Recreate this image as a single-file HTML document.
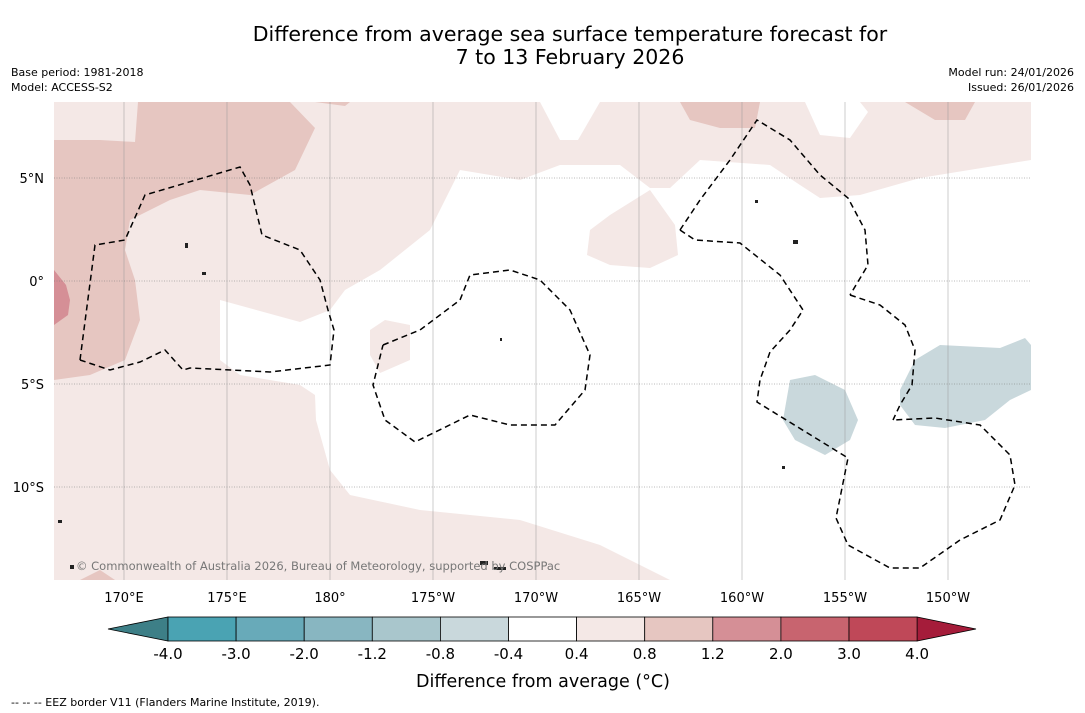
<!DOCTYPE html>
<html><head><meta charset="utf-8"><style>
body{margin:0;background:#fff;font-family:"DejaVu Sans","Liberation Sans",sans-serif}
svg{display:block}
</style></head><body>
<svg width="1085" height="713" viewBox="0 0 1085 713" xmlns="http://www.w3.org/2000/svg" font-family="DejaVu Sans, Liberation Sans, sans-serif">
<rect width="1085" height="713" fill="#fff"/>
<text x="570" y="41" font-size="20.5" text-anchor="middle">Difference from average sea surface temperature forecast for</text>
<text x="570" y="64" font-size="20.5" text-anchor="middle">7 to 13 February 2026</text>
<text x="11" y="76" font-size="11">Base period: 1981-2018</text>
<text x="11" y="91" font-size="11">Model: ACCESS-S2</text>
<text x="1074" y="76" font-size="11" text-anchor="end">Model run: 24/01/2026</text>
<text x="1074" y="91" font-size="11" text-anchor="end">Issued: 26/01/2026</text>

<g>
<clipPath id="mc"><rect x="54" y="102" width="977" height="478"/></clipPath>
<g clip-path="url(#mc)">
<rect x="54" y="102" width="977" height="478" fill="#f4e8e6"/>
<polygon fill="#fff" points="220,300 300,322 330,310 345,290 380,270 430,230 460,170 520,180 560,165 620,165 650,188 670,188 700,160 770,165 800,185 820,198 860,195 920,178 1031,160 1031,580 670,580 600,545 520,520 420,510 350,495 330,470 316,420 315,395 300,385 240,375 220,360"/>
<polygon fill="#fff" points="540,102 560,140 578,140 600,102"/>
<polygon fill="#fff" points="805,102 820,135 850,138 868,112 860,102"/>
<polygon fill="#e6c6c1" points="54,140 100,140 135,142 138,102 290,102 315,128 295,170 250,195 200,190 170,200 130,220 125,250 135,280 140,320 125,360 90,375 54,380"/>
<polygon fill="#e6c6c1" points="680,102 690,120 720,128 755,128 760,102"/>
<polygon fill="#e6c6c1" points="905,102 935,120 965,120 975,102"/>
<polygon fill="#e6c6c1" points="315,102 345,106 350,102"/>
<polygon fill="#e6c6c1" points="80,580 100,570 115,580"/>
<polygon fill="#d58f96" points="54,270 66,285 70,300 68,315 54,325"/>
<polygon fill="#f4e8e6" points="587,255 590,230 610,215 650,190 675,225 678,255 650,268 610,265"/>
<polygon fill="#f4e8e6" points="370,355 370,330 385,320 410,325 410,360 380,373"/>
<polygon fill="#c9d8dc" points="900,390 915,360 940,345 1000,348 1025,338 1031,345 1031,390 1010,400 985,420 945,428 915,425 900,405"/>
<polygon fill="#c9d8dc" points="790,380 815,375 845,390 858,420 850,440 825,455 795,440 783,420"/>
<g id="grid" stroke="#999" stroke-width="0.5"></g>
<g fill="none" stroke="#000" stroke-width="1.5" stroke-dasharray="6,4">
<polyline points="80,360 95,245 125,240 145,195 240,167 250,185 262,235 300,250 320,280 328,310 334,330 330,365 270,372 190,368 183,370 165,350 140,362 110,370 80,360"/>
<polyline points="383,345 420,330 460,300 470,275 510,270 540,280 570,310 590,355 585,390 555,425 510,425 470,415 415,442 385,420 373,385 383,345"/>
<polyline points="680,230 700,200 730,160 757,120 790,140 820,175 848,198 865,230 868,265 850,295"/>
<polyline points="680,230 695,240 740,243 780,275 803,310 790,330 770,352 760,380 757,402 848,458 836,518 848,545 890,568 920,568 960,540 1000,520 1015,485 1010,455 980,425 935,418 893,420"/>
<polyline points="850,295 880,305 905,325 915,350 912,385 900,405 893,420"/>
</g>
<g fill="#222">
<rect x="480" y="561" width="8" height="4"/><rect x="494" y="567" width="12" height="3"/>
<rect x="185" y="243" width="3" height="5"/><rect x="202" y="272" width="4" height="3"/>
<rect x="755" y="200" width="3" height="3"/><rect x="793" y="240" width="5" height="4"/>
<rect x="58" y="520" width="4" height="3"/><rect x="70" y="565" width="4" height="4"/>
<rect x="500" y="338" width="2" height="3"/><rect x="782" y="466" width="3" height="3"/>
</g>
</g>
<text x="76" y="570" font-size="11.5" fill="#777">© Commonwealth of Australia 2026, Bureau of Meteorology, supported by COSPPac</text>
</g>
<g id="axes" font-size="13"></g>
<g id="cbar"></g>
<text x="543" y="687" font-size="17.5" text-anchor="middle">Difference from average (°C)</text>
<text x="11" y="706" font-size="11">--  --  -- EEZ border V11 (Flanders Marine Institute, 2019).</text>
</svg>
<script>
const lonTicks=["170°E","175°E","180°","175°W","170°W","165°W","160°W","155°W","150°W"];
const lonVals=[170,175,180,185,190,195,200,205,210];
const latTicks=["5°N","0°","5°S","10°S"];
const latVals=[5,0,-5,-10];
const levels=["-4.0","-3.0","-2.0","-1.2","-0.8","-0.4","0.4","0.8","1.2","2.0","3.0","4.0"];
const colors=["#4aa3b3","#68aab9","#88b6c1","#a9c6cc","#c9d8dc","#ffffff","#f4e8e6","#e6c6c1","#d58f96","#c8646f","#bf4858"];
const NS="http://www.w3.org/2000/svg";
const xL=v=>124+(v-170)*20.6, yL=v=>281-v*20.6;
const grid=document.getElementById('grid'), ax=document.getElementById('axes');
function mk(t,a,p){const e=document.createElementNS(NS,t);for(const k in a)e.setAttribute(k,a[k]);p.appendChild(e);return e;}
lonVals.forEach((v,i)=>{const x=xL(v);
const l=mk('line',{x1:x,x2:x,y1:102,y2:580},grid);


const t=mk('text',{x:x,y:602,'text-anchor':'middle'},ax);t.textContent=lonTicks[i];

});
latVals.forEach((v,i)=>{const y=yL(v);
const l=mk('line',{x1:54,x2:1031,y1:y,y2:y,'stroke-dasharray':'1,1.5','stroke':'#777'},grid);


const t=mk('text',{x:44,y:y+5,'text-anchor':'end'},ax);t.textContent=latTicks[i];

});
const cb=document.getElementById('cbar');const x0=168,w=68.1,y0=617,h=24;
const lt=mk('polygon',{points:`108,629 ${x0},${y0} ${x0},${y0+h}`,fill:'#3d7f87',stroke:'#000','stroke-width':0.8},cb);


const xe=x0+w*colors.length;
const rt=mk('polygon',{points:`${xe},${y0} 976,629 ${xe},${y0+h}`,fill:'#a51c3a',stroke:'#000','stroke-width':0.8},cb);


colors.forEach((c,i)=>{const r=mk('rect',{x:x0+i*w,y:y0,width:w,height:h,fill:c,stroke:'#000','stroke-width':0.8},cb);

});
levels.forEach((s,i)=>{const t=mk('text',{x:x0+i*w,y:659,'text-anchor':'middle','font-size':15},cb);t.textContent=s;

});
</script>
</body></html>
